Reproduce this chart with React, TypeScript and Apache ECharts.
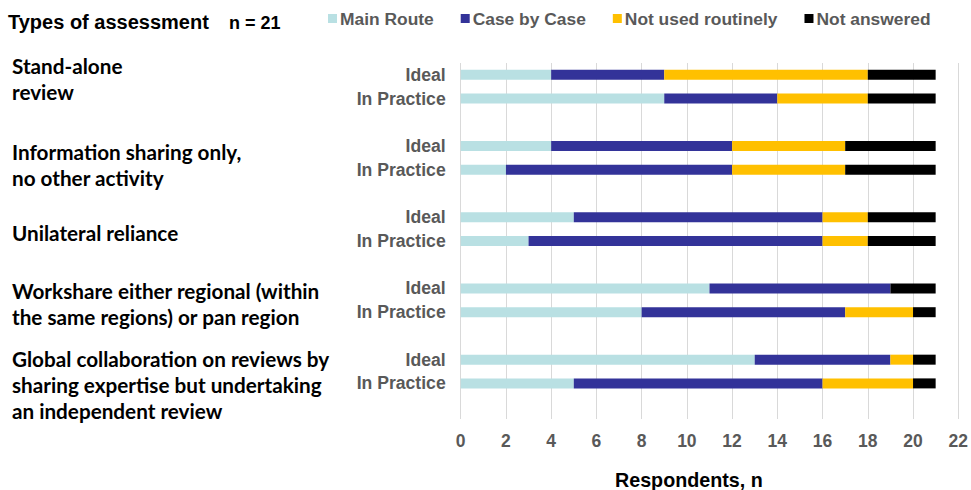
import React, { useEffect, useRef } from "react";
import * as echarts from "echarts";

// Row order, top to bottom; blank rows separate the assessment types.
const rowLabels = [
  "Ideal", "In Practice", "",
  "Ideal", "In Practice", "",
  "Ideal", "In Practice", "",
  "Ideal", "In Practice", "",
  "Ideal", "In Practice", "",
];

const assessmentTypes = [
  "Stand-alone\nreview",
  "Information sharing only,\nno other activity",
  "Unilateral reliance",
  "Workshare either regional (within\nthe same regions) or pan region",
  "Global collaboration on reviews by\nsharing expertise but undertaking\nan independent review",
];

// Respondent counts per filled row (Ideal, In Practice for each type)
const mainRoute = [4, 9, 4, 2, 5, 3, 11, 8, 13, 5];
const caseByCase = [5, 5, 8, 10, 11, 13, 8, 9, 6, 11];
const notUsedRoutinely = [9, 4, 5, 5, 2, 2, 0, 3, 1, 4];
const notAnswered = [3, 3, 4, 4, 3, 3, 2, 1, 1, 1];

const seriesNames = ["Main Route", "Case by Case", "Not used routinely", "Not answered"];
const seriesColors = ["#B9E0E3", "#333399", "#FFC000", "#000000"];

const xTicks = { min: 0, max: 22, interval: 2 };
const totalRespondents = 21;

// Spread the 10 filled values over the 15 rows, leaving separators empty.
function toRows(values: number[]): (number | null)[] {
  const out: (number | null)[] = [];
  let k = 0;
  rowLabels.forEach((label) => {
    out.push(label === "" ? null : values[k++]);
  });
  return out;
}

// Top offsets of the type labels in the left margin
const TYPE_LABEL_TOPS = [53, 139, 220, 278, 346];

export default function App() {
  const ref = useRef<HTMLDivElement>(null);

  useEffect(() => {
    if (!ref.current) return;
    const chart = echarts.init(ref.current, undefined, { renderer: "svg" });
    const gray = "#595959";
    const arial = "'Liberation Sans', Arial, sans-serif";
    const labelFont = "Lato, 'Open Sans', sans-serif";

    const allValues = [mainRoute, caseByCase, notUsedRoutinely, notAnswered];

    const typeLabels = assessmentTypes.map((t, i) => ({
      type: "text",
      left: 12,
      top: TYPE_LABEL_TOPS[i],
      style: {
        text: t,
        fontFamily: labelFont,
        fontSize: 20.7,
        fontWeight: "bold",
        fill: "#000",
        lineHeight: 26,
      },
    }));

    chart.setOption({
      animation: false,
      grid: { left: 460.7, right: 12, top: 63, height: 356, containLabel: false },
      legend: {
        data: seriesNames,
        left: 328,
        top: 10,
        padding: 0,
        itemGap: 27,
        itemWidth: 9,
        itemHeight: 9,
        icon: "rect",
        textStyle: { color: gray, fontFamily: arial, fontWeight: "bold", fontSize: 17.4, padding: [0, 0, 0, -2] },
      },
      xAxis: {
        type: "value",
        min: xTicks.min,
        max: xTicks.max,
        interval: xTicks.interval,
        axisLine: { show: false },
        axisTick: { show: false },
        splitLine: { show: true, lineStyle: { color: "#D9D9D9", width: 1 } },
        axisLabel: {
          color: gray,
          fontFamily: arial,
          fontWeight: "bold",
          fontSize: 17.5,
          margin: 13,
        },
      },
      yAxis: {
        type: "category",
        inverse: true,
        data: rowLabels,
        axisLine: { show: false },
        axisTick: { show: false },
        splitLine: { show: false },
        axisLabel: {
          color: gray,
          fontFamily: arial,
          fontWeight: "bold",
          fontSize: 17.6,
          margin: 15,
        },
      },
      series: seriesNames.map((name, i) => ({
        name,
        type: "bar",
        stack: "total",
        barWidth: 10,
        itemStyle: { color: seriesColors[i] },
        data: toRows(allValues[i]),
      })),
      graphic: [
        {
          type: "text",
          left: 8,
          top: 12,
          style: {
            text: "Types of assessment",
            fontFamily: arial,
            fontSize: 20,
            fontWeight: "bold",
            fill: "#000",
          },
        },
        {
          type: "text",
          left: 229,
          top: 14,
          style: {
            text: `n = ${totalRespondents}`,
            fontFamily: arial,
            fontSize: 18,
            fontWeight: "bold",
            fill: "#000",
          },
        },
        {
          type: "text",
          left: 615,
          top: 470,
          style: {
            text: "Respondents, n",
            fontFamily: arial,
            fontSize: 19.7,
            fontWeight: "bold",
            fill: "#000",
          },
        },
        ...typeLabels,
      ],
    });

    return () => chart.dispose();
  }, []);

  return (
    <div
      ref={ref}
      style={{ position: "absolute", left: 0, top: 0, width: 971, height: 490, background: "#fff" }}
    />
  );
}
